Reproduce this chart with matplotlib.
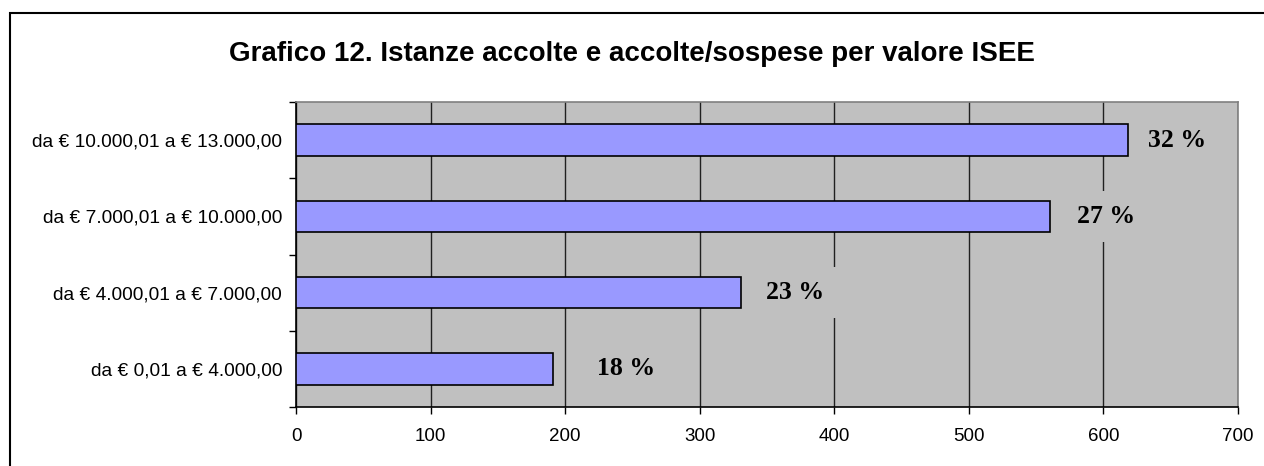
import matplotlib.pyplot as plt
from matplotlib.patches import Rectangle

# Data
categories = ['da € 0,01 a € 4.000,00', 'da € 4.000,01 a € 7.000,00',
              'da € 7.000,01 a € 10.000,00', 'da € 10.000,01 a € 13.000,00']
values = [191, 331, 560, 618]
pct_labels = ['18 %', '23 %', '27 %', '32 %']
x_ticks = [0, 100, 200, 300, 400, 500, 600, 700]

# label offset from bar end (data units), as placed in the original
label_offset = [33, 18, 20, 15]

plt.rcParams['font.family'] = ['Liberation Sans', 'DejaVu Sans']

fig = plt.figure(figsize=(12.64, 4.66), dpi=100)
fig.patch.set_facecolor('white')

# outer chart frame (runs off the right and bottom edges)
fig.patches.append(Rectangle((10 / 1264, -0.1), 1.2, 1 - 13 / 466 + 0.1,
                             transform=fig.transFigure, fill=False,
                             edgecolor='black', linewidth=1.5))

fig.text(0.5, 1 - 54 / 466, 'Grafico 12. Istanze accolte e accolte/sospese per valore ISEE',
         ha='center', va='center', fontsize=20, fontweight='bold')

ax = fig.add_axes([296 / 1264, 1 - 407 / 466, (1238 - 296) / 1264, (407 - 102) / 466])
ax.set_facecolor('#C0C0C0')

y = range(len(categories))
ax.barh(y, values, height=0.41, color='#9999FF', edgecolor='black', linewidth=1.2, zorder=3)

for i, v in enumerate(values):
    ax.text(v + label_offset[i], i, pct_labels[i], ha='left', va='center',
            fontsize=18.5, fontweight='bold', family=['Liberation Serif'],
            bbox=dict(facecolor='#C0C0C0', edgecolor='none', pad=10), zorder=4)

ax.set_xlim(0, 700)
ax.set_ylim(-0.5, len(categories) - 0.5)
ax.set_xticks(x_ticks)
ax.set_yticks(list(y))
ax.set_yticklabels(categories)
ax.set_yticks([i - 0.5 for i in range(len(categories) + 1)], minor=True)

ax.tick_params(axis='y', which='major', length=0, pad=10, labelsize=13.8)
ax.tick_params(axis='y', which='minor', length=5, width=1, direction='out')
ax.tick_params(axis='x', length=5, width=1, direction='out', pad=10, labelsize=13.5)

ax.grid(axis='x', color='#202020', linewidth=1, zorder=1)
ax.set_axisbelow(True)

for side in ['left', 'bottom']:
    ax.spines[side].set_color('black')
    ax.spines[side].set_linewidth(1.2)
for side in ['top', 'right']:
    ax.spines[side].set_color('#808080')
    ax.spines[side].set_linewidth(1.2)

fig.savefig('out.png', dpi=100)
